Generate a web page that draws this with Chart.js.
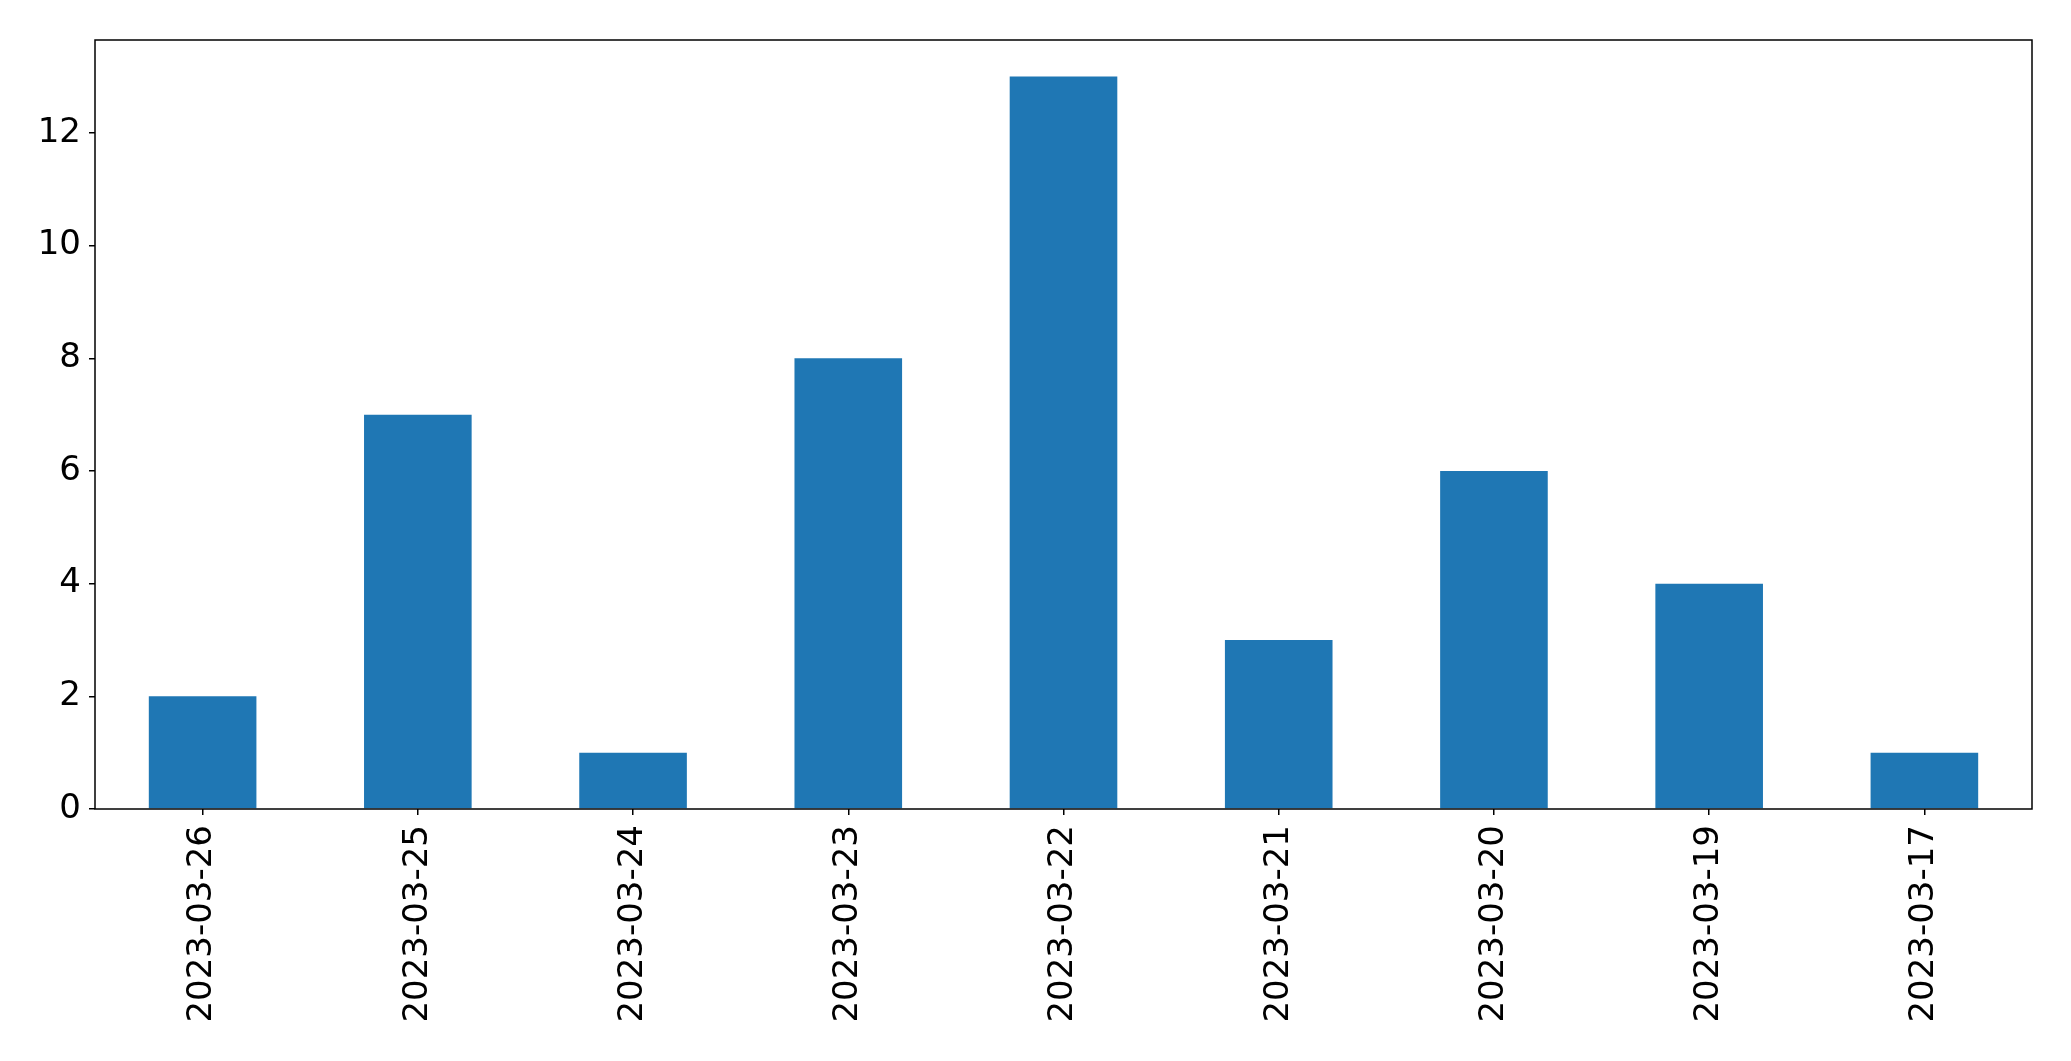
<!DOCTYPE html>
<html>
<head>
<meta charset="UTF-8" />
<script src="https://cdn.jsdelivr.net/npm/chart.js@4/dist/chart.umd.min.js"></script>
<style>
  html, body { margin: 0; padding: 0; background: #fff; }
  canvas { display: block; }
</style>
</head>
<body>
<canvas id="chart" width="2071" height="1061"></canvas>
<script>
const dates = ['2023-03-26', '2023-03-25', '2023-03-24', '2023-03-23', '2023-03-22',
  '2023-03-21', '2023-03-20', '2023-03-19', '2023-03-17'];
const counts = [2, 7, 1, 8, 13, 3, 6, 4, 1];
const yTicks = [0, 2, 4, 6, 8, 10, 12];

// frame around the plot area, like matplotlib spines
const frame = {
  id: 'frame',
  afterDraw(chart) {
    const { ctx, chartArea: a } = chart;
    ctx.save();
    ctx.strokeStyle = '#000';
    ctx.lineWidth = 1.5;
    ctx.strokeRect(a.left, a.top, a.right - a.left, a.bottom - a.top);
    ctx.restore();
  },
};

const font = { family: '"DejaVu Sans", sans-serif', size: 34 };

new Chart(document.getElementById('chart').getContext('2d'), {
  type: 'bar',
  data: {
    labels: dates,
    datasets: [{
      data: counts,
      backgroundColor: '#1f77b4',
      borderWidth: 0,
      categoryPercentage: 1,
      barPercentage: 0.5,
    }],
  },
  options: {
    responsive: false,
    animation: false,
    layout: { padding: { top: 40, right: 39, left: 0, bottom: 0 } },
    plugins: { legend: { display: false }, tooltip: { enabled: false } },
    scales: {
      x: {
        offset: true,
        grid: { offset: false, drawOnChartArea: false, tickLength: 6, color: '#000', lineWidth: 1.5 },
        border: { display: false },
        ticks: { color: '#000', font, minRotation: 90, maxRotation: 90, padding: 10, autoSkip: false },
        afterFit(scale) { scale.height = 252; },
      },
      y: {
        min: 0,
        max: 13.65,
        grid: { drawOnChartArea: false, tickLength: 6, color: '#000', lineWidth: 1.5 },
        border: { display: false },
        ticks: { color: '#000', font, padding: 8 },
        afterBuildTicks(scale) { scale.ticks = yTicks.map((v) => ({ value: v })); },
        afterFit(scale) { scale.width = 95; },
      },
    },
  },
  plugins: [frame],
});
</script>
</body>
</html>
